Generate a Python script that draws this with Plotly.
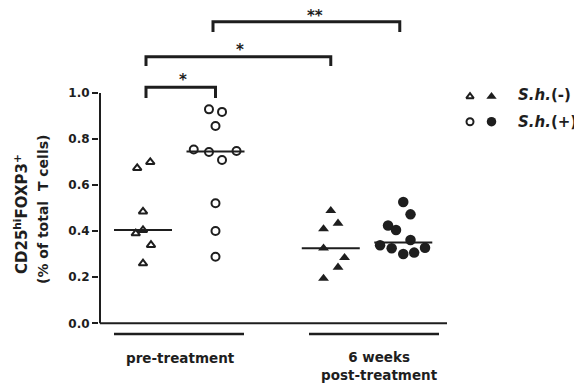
import numpy as np
import plotly.graph_objects as go

# ---------------- data ----------------
group_names = ["pre S.h.(-)", "pre S.h.(+)", "post S.h.(-)", "post S.h.(+)"]
group_x = [1.0, 2.0, 3.59, 4.59]

vals_pre_neg = [0.700, 0.674, 0.485, 0.405, 0.390, 0.340, 0.260]
jit_pre_neg = [0.10, -0.08, 0.0, 0.0, -0.10, 0.11, 0.0]

vals_pre_pos = [0.929, 0.918, 0.857, 0.755, 0.748, 0.744, 0.709, 0.521, 0.401, 0.289]
jit_pre_pos = [-0.09, 0.09, 0.0, -0.30, 0.29, -0.09, 0.09, 0.0, 0.0, 0.0]

vals_post_neg = [0.489, 0.434, 0.410, 0.326, 0.285, 0.243, 0.195]
jit_post_neg = [0.0, 0.10, -0.10, -0.10, 0.19, 0.10, -0.10]

vals_post_pos = [0.527, 0.473, 0.425, 0.405, 0.362, 0.339, 0.328, 0.326, 0.307, 0.301]
jit_post_pos = [0.0, 0.10, -0.21, -0.10, 0.10, -0.32, 0.30, -0.16, 0.15, 0.0]

y_ticks = [0.0, 0.2, 0.4, 0.6, 0.8, 1.0]
y_tick_labels = ["0.0", "0.2", "0.4", "0.6", "0.8", "1.0"]

period_labels = ["pre-treatment", "6 weeks<br>post-treatment"]
legend_labels = ["<i>S.h.</i>(-)", "<i>S.h.</i>(+)"]
y_title_lines = ["CD25<sup>hi</sup>FOXP3<sup>+</sup>", "(% of total  T cells)"]

# significance: (label, group a, group b)
sig_pairs = [("*", 0, 1), ("*", 0, 2), ("**", 1, 3)]

# ---------------- styling / geometry ----------------
OFF = 8                       # page body margin of the html page
W, H = 582 - OFF, 386 - OFF
ML, MR, MT, MB = 99 - OFF, 4, 4, 0
UNIT = 72.5                   # screen px per x unit
G0_SCR = 143                  # screen x of first group
Y0_SCR, YPX = 323.3, 230.3    # screen y of value 0 and px per unit

xl = group_x[0] - (G0_SCR - (ML + OFF)) / UNIT
xr = xl + (W - ML - MR) / UNIT
ytop = (Y0_SCR - (MT + OFF)) / YPX
ybot = -((H - MB + OFF) - Y0_SCR) / YPX


def dx(px):
    return group_x[0] + (px - G0_SCR) / UNIT


def dy(py):
    return (Y0_SCR - py) / YPX


INK = "#1e1e1e"
FONT = "DejaVu Sans"

fig = go.Figure()

series = [
    (vals_pre_neg, jit_pre_neg, "triangle-up-open", 7.5, 0),
    (vals_pre_pos, jit_pre_pos, "circle-open", 8, 1),
    (vals_post_neg, jit_post_neg, "triangle-up", 9.5, 2),
    (vals_post_pos, jit_post_pos, "circle", 10.5, 3),
]
for vals, jit, sym, sz, gi in series:
    fig.add_trace(go.Scatter(
        x=[group_x[gi] + j for j in jit], y=vals, mode="markers",
        name=group_names[gi], showlegend=False, cliponaxis=False,
        marker=dict(symbol=sym, size=sz, color=INK,
                    line=dict(color=INK, width=2 if "open" in sym else 0)),
    ))
for vals, jit, sym, sz, gi in series:
    m = float(np.median(vals))
    fig.add_trace(go.Scatter(
        x=[group_x[gi] - 0.4, group_x[gi] + 0.4], y=[m, m], mode="lines",
        showlegend=False, line=dict(color=INK, width=2), hoverinfo="skip",
    ))

# legend-like markers
leg_rows = [("triangle-up-open", "triangle-up", 96.5), ("circle-open", "circle", 121.7)]
for (s_open, s_fill, py) in leg_rows:
    is_tri = "tri" in s_open
    fig.add_trace(go.Scatter(
        x=[dx(470)], y=[dy(py)], mode="markers",
        showlegend=False, cliponaxis=False, hoverinfo="skip",
        marker=dict(symbol=s_open, size=6.5 if is_tri else 7, color=INK,
                    line=dict(color=INK, width=2)),
    ))
    fig.add_trace(go.Scatter(
        x=[dx(491.5)], y=[dy(py)], mode="markers",
        showlegend=False, cliponaxis=False, hoverinfo="skip",
        marker=dict(symbol=s_fill, size=9 if is_tri else 9.5, color=INK,
                    line=dict(width=0)),
    ))

shapes = []
# axis lines
shapes.append(dict(type="line", xref="x", yref="y", x0=dx(100), x1=dx(100), y0=0, y1=1,
                   line=dict(color=INK, width=2)))
shapes.append(dict(type="line", xref="x", yref="y", x0=dx(100), x1=dx(447), y0=0, y1=0,
                   line=dict(color=INK, width=2)))
# period underlines
for x0p, x1p in [(114, 244), (309, 439)]:
    shapes.append(dict(type="line", xref="x", yref="y", x0=dx(x0p), x1=dx(x1p),
                       y0=dy(334), y1=dy(334), line=dict(color=INK, width=2.5)))

# brackets
bracket_geo = [  # (x0 px offset, x1 px offset, y top px, y leg px, star px x, star px y)
    (3, 0, 87.3, 98, 183, 80),
    (3, 0, 56.7, 66, 240, 50),
    (-2.5, -3.5, 21.7, 32, 315, 16),
]
annotations = []
for (lab, a, b), (o0, o1, yt, yl, sx, sy) in zip(sig_pairs, bracket_geo):
    xa = group_x[a] + o0 / UNIT
    xb = group_x[b] + o1 / UNIT
    shapes.append(dict(type="path", xref="x", yref="y",
                       path=f"M {xa},{dy(yl)} L {xa},{dy(yt)} L {xb},{dy(yt)} L {xb},{dy(yl)}",
                       line=dict(color=INK, width=3)))
    annotations.append(dict(x=dx(sx), y=dy(sy), xref="x", yref="y", text=f"<b>{lab}</b>",
                            showarrow=False, font=dict(family=FONT, size=15, color=INK),
                            xanchor="center", yanchor="middle"))

# period labels
annotations.append(dict(x=dx(180), y=dy(358), xref="x", yref="y", text=f"<b>{period_labels[0]}</b>",
                        showarrow=False, font=dict(family=FONT, size=13.5, color=INK)))
annotations.append(dict(x=dx(379), y=dy(366), xref="x", yref="y", text=f"<b>{period_labels[1]}</b>",
                        showarrow=False, font=dict(family=FONT, size=13.5, color=INK)))

# legend labels
for lab, py in zip(legend_labels, [95, 121.7]):
    annotations.append(dict(x=dx(516), y=dy(py), xref="x", yref="y", text=f"<b>{lab}</b>",
                            showarrow=False, xanchor="left", yanchor="middle",
                            font=dict(family=FONT, size=15, color=INK)))

# y title
plot_w = W - ML - MR
plot_h = H - MT - MB
for txt, px, py, fs in zip(y_title_lines, [21, 43], [214, 210], [15, 14]):
    annotations.append(dict(x=(px - OFF - ML) / plot_w, y=(H - MB - (py - OFF)) / plot_h,
                            xref="paper", yref="paper",
                            text=f"<b>{txt}</b>", textangle=-90, showarrow=False,
                            xanchor="center", yanchor="middle",
                            font=dict(family=FONT, size=fs, color=INK)))

fig.update_layout(
    width=W, height=H, margin=dict(l=ML, r=MR, t=MT, b=MB),
    paper_bgcolor="white", plot_bgcolor="white",
    showlegend=False,
    xaxis=dict(range=[xl, xr], visible=False, fixedrange=True),
    yaxis=dict(range=[ybot, ytop], showline=False, showgrid=False, zeroline=False,
               tickmode="array", tickvals=y_ticks, ticktext=y_tick_labels,
               ticks="outside", ticklen=6, tickwidth=2, tickcolor=INK,
               tickfont=dict(family=FONT, size=12, color=INK, weight="bold"),
               fixedrange=True),
    shapes=shapes, annotations=annotations,
)

fig.write_html("out.html")
